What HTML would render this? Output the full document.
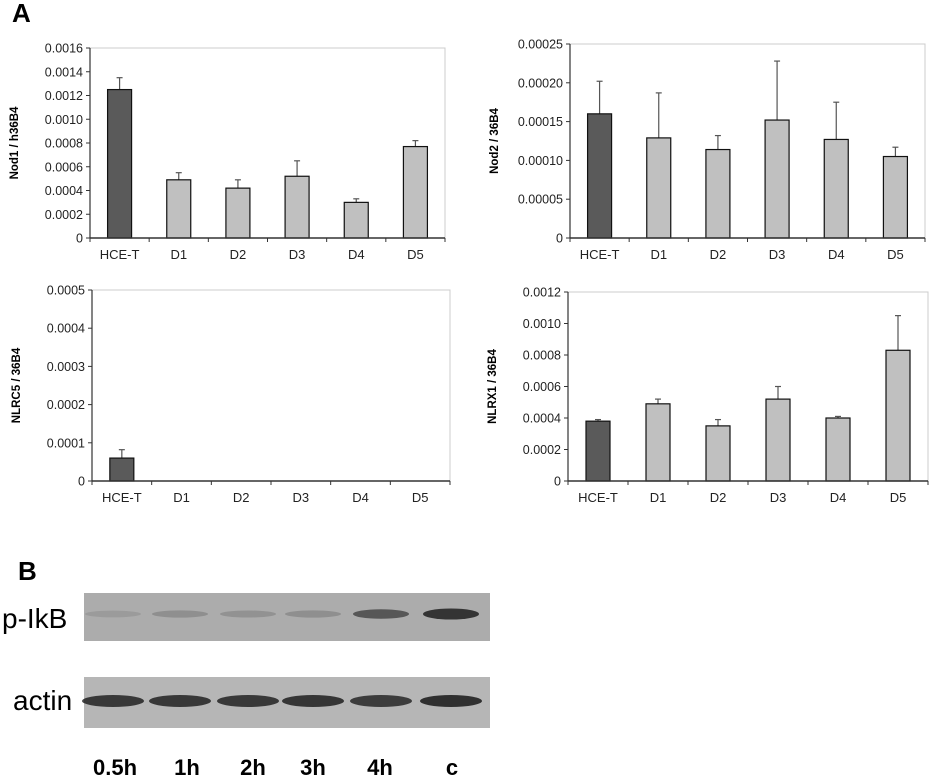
<!DOCTYPE html>
<html><head><meta charset="utf-8"><style>
body{margin:0;background:#fff;font-family:"Liberation Sans",sans-serif}
svg{position:absolute;left:0;top:0}
</style></head><body>
<svg id="s" width="933" height="780">
<text x="12" y="22" font-size="26" font-weight="bold">A</text>
<text x="18" y="580" font-size="26" font-weight="bold">B</text>
<g>
<rect x="84" y="593" width="406" height="48" fill="#acacac"/>
<rect x="84" y="677" width="406" height="51" fill="#b6b6b6"/>
<text x="2" y="628" font-size="28">p-IkB</text>
<text x="13" y="710" font-size="28">actin</text>
</g>
<g id="blot"></g>
</svg>
<script>
const NS="http://www.w3.org/2000/svg";
const svg=document.getElementById('s');
function mk(t,a,p){const e=document.createElementNS(NS,t);for(const k in a)e.setAttribute(k,a[k]);(p||svg).appendChild(e);return e;}
const categories=["HCE-T","D1","D2","D3","D4","D5"];
const nod1Values=[0.00125,0.00049,0.00042,0.00052,0.00030,0.00077];
const nod1Errors=[0.00010,0.00006,0.00007,0.00013,0.00003,0.00005];
const nod1Ticks=["0","0.0002","0.0004","0.0006","0.0008","0.0010","0.0012","0.0014","0.0016"];
const nod2Values=[0.000160,0.000129,0.000114,0.000152,0.000127,0.000105];
const nod2Errors=[0.000042,0.000058,0.000018,0.000076,0.000048,0.000012];
const nod2Ticks=["0","0.00005","0.00010","0.00015","0.00020","0.00025"];
const nlrc5Values=[0.00006,0,0,0,0,0];
const nlrc5Errors=[0.000022,0,0,0,0,0];
const nlrc5Ticks=["0","0.0001","0.0002","0.0003","0.0004","0.0005"];
const nlrx1Values=[0.00038,0.00049,0.00035,0.00052,0.00040,0.00083];
const nlrx1Errors=[0.00001,0.00003,0.00004,0.00008,0.00001,0.00022];
const nlrx1Ticks=["0","0.0002","0.0004","0.0006","0.0008","0.0010","0.0012"];
const blotLanes=["0.5h","1h","2h","3h","4h","c"];
const pIkbIntensity=[0.12,0.2,0.18,0.2,0.6,0.85];
const actinIntensity=[0.8,0.8,0.8,0.82,0.78,0.85];

function chart(name,cfg,vals,errs,ticks,title){
  const g=mk('g',{});
  
  
  const {L,R,T,B}=cfg;const max=+ticks[ticks.length-1];
  const y=v=>B-(v/max)*(B-T);
  const cw=(R-L)/categories.length;
  const x=i=>L+cw*(i+0.5);
  const box=mk('rect',{x:L,y:T,width:R-L,height:B-T,fill:'none',stroke:'#ccc','stroke-width':1},g);
  
  
  ticks.forEach(t=>{
    const yy=y(+t);
    mk('line',{x1:L-4,x2:L,y1:yy,y2:yy,stroke:'#333'},g);
    const tx=mk('text',{x:L-7,y:yy+4.5,'font-size':12.5,'text-anchor':'end',fill:'#222'},g);
    tx.textContent=t;
    
    
  });
  for(let i=0;i<=categories.length;i++){mk('line',{x1:L+cw*i,x2:L+cw*i,y1:B,y2:B+4,stroke:'#333'},g);}
  vals.forEach((v,i)=>{
    const top=y(v+errs[i]);
    if(errs[i]>0){
      mk('line',{x1:x(i),x2:x(i),y1:top,y2:y(v),stroke:'#555','stroke-width':1.2},g);
      mk('line',{x1:x(i)-3,x2:x(i)+3,y1:top,y2:top,stroke:'#555','stroke-width':1.2},g);
    }
    const b=mk('rect',{x:x(i)-12,y:y(v),width:24,height:B-y(v),fill:i==0?'#5a5a5a':'#c0c0c0',stroke:'#111','stroke-width':1.2},g);
    
    
    const lb=mk('text',{x:x(i),y:B+21,'font-size':13,'text-anchor':'middle',fill:'#222'},g);
    lb.textContent=categories[i];
    
    
  });
  mk('line',{x1:L,x2:L,y1:T,y2:B,stroke:'#333','stroke-width':1.2},g);
  mk('line',{x1:L,x2:R,y1:B,y2:B,stroke:'#333','stroke-width':1.5},g);
  const tt=mk('text',{x:0,y:0,'font-size':11.5,'font-weight':'bold','text-anchor':'middle',transform:`translate(${L-72},${(T+B)/2}) rotate(-90)`},g);
  tt.textContent=title;
  
  
}
chart('nod1-chart',{L:90,R:445,T:48,B:238},nod1Values,nod1Errors,nod1Ticks,'Nod1 / h36B4');
chart('nod2-chart',{L:570,R:925,T:44,B:238},nod2Values,nod2Errors,nod2Ticks,'Nod2 / 36B4');
chart('nlrc5-chart',{L:92,R:450,T:290,B:481},nlrc5Values,nlrc5Errors,nlrc5Ticks,'NLRC5 / 36B4');
chart('nlrx1-chart',{L:568,R:928,T:292,B:481},nlrx1Values,nlrx1Errors,nlrx1Ticks,'NLRX1 / 36B4');

const blot=document.getElementById('blot');
const laneX=[113,180,248,313,381,451];
blotLanes.forEach((l,i)=>{
  const a=pIkbIntensity[i];
  const e1=mk('ellipse',{cx:laneX[i],cy:614,rx:28,ry:3+a*3,fill:`rgba(30,30,30,${a})`},blot);
  
  
  const e2=mk('ellipse',{cx:laneX[i],cy:701,rx:31,ry:6,fill:`rgba(25,25,25,${actinIntensity[i]})`},blot);
  
  
  const t=mk('text',{x:[115,187,253,313,380,452][i],y:775,'font-size':22,'font-weight':'bold','text-anchor':'middle'},blot);
  t.textContent=l;
  
  
});
</script>
</body></html>
